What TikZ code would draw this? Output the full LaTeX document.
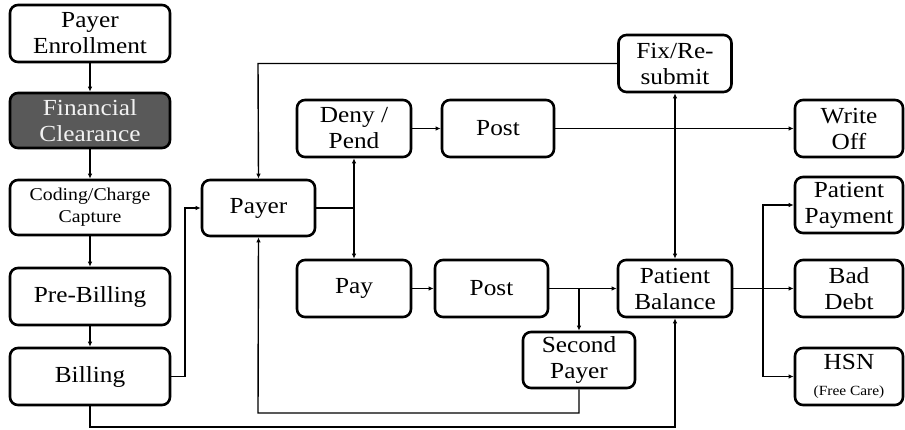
\documentclass[tikz,border=0pt]{standalone}
\usepackage{fontspec}
\setmainfont{Liberation Serif}[FakeStretch=1.1]
\usetikzlibrary{arrows.meta}
\begin{document}
\begin{tikzpicture}[x=1pt,y=-1pt,
  box/.style={draw=black, line width=2.6pt, rounded corners=8pt, fill=white,
    align=center, inner sep=0pt, font=\fontsize{23}{26}\selectfont},
  darkbox/.style={box, fill=black!65, text=black!5},
  conn/.style={line width=1.4pt, -{Latex[length=5pt,width=4.5pt]}},
  plain/.style={line width=1.4pt},
  thick conn/.style={line width=2.8pt}
]
\useasboundingbox (0,0) rectangle (905,429);

% left column
\node[box, minimum width=160pt, minimum height=57pt] (enroll) at (90,33.5) {Payer\\Enrollment};
\node[darkbox, minimum width=160pt, minimum height=55pt] (fin) at (90,120.5) {Financial\\Clearance};
\node[box, minimum width=160pt, minimum height=55pt, font=\fontsize{18}{22}\selectfont] (coding) at (90,207.5) {Coding/Charge\\Capture};
\node[box, minimum width=160pt, minimum height=57pt] (pre) at (90,296.5) {Pre-Billing};
\node[box, minimum width=160pt, minimum height=57pt] (bill) at (90,376.5) {Billing};

% middle
\node[box, minimum width=113pt, minimum height=56pt] (payer) at (258.5,208) {Payer};
\node[box, minimum width=114pt, minimum height=57pt] (deny) at (354,128.5) {Deny /\\Pend};
\node[box, minimum width=112pt, minimum height=57pt] (post1) at (498,128.5) {Post};
\node[box, minimum width=113pt, minimum height=57pt] (fix) at (675,63.5) {Fix/Re-\\submit};
\node[box, minimum width=114pt, minimum height=57pt] (pay) at (354,288.5) {Pay};
\node[box, minimum width=113pt, minimum height=57pt] (post2) at (491.5,288.5) {Post};
\node[box, minimum width=114pt, minimum height=57pt] (pb) at (675,288.5) {Patient\\Balance};
\node[box, minimum width=112pt, minimum height=56pt] (second) at (579,360) {Second\\Payer};

% right column
\node[box, minimum width=108pt, minimum height=57pt] (write) at (849,128.5) {Write\\Off};
\node[box, minimum width=108pt, minimum height=56pt] (pp) at (849,205) {Patient\\Payment};
\node[box, minimum width=108pt, minimum height=57pt] (bad) at (849,288.5) {Bad\\Debt};
\node[box, minimum width=108pt, minimum height=57pt] (hsn) at (849,376.5) {HSN\\{\fontsize{14}{16}\selectfont (Free Care)}};

% junction coordinates
\coordinate (jbill) at (185,376.5);
\coordinate (jpayer) at (354,208);
\coordinate (jpost1) at (675,128.5);
\coordinate (jfix) at (258,63.5);
\coordinate (jpost2) at (579,288.5);
\coordinate (jsec) at (579,413);
\coordinate (jsec2) at (258,413);
\coordinate (jbot) at (90,427);
\coordinate (jbot2) at (675,427);
\coordinate (jpb) at (763,288.5);

% left column arrows
\draw[conn] (enroll) -- (fin);
\draw[conn] (fin) -- (coding);
\draw[conn] (coding) -- (pre);
\draw[conn] (pre) -- (bill);

% billing to payer
\draw[conn] (bill.east) -- (jbill) |- (payer.west);

% payer split
\draw[thick conn] (payer.east) -- (jpayer);
\draw[conn] (jpayer) -- (deny.south);
\draw[conn] (jpayer) -- (pay.north);

% deny path
\draw[conn] (deny) -- (post1);
\draw[plain] (post1.east) -- (jpost1);
\draw[conn] (jpost1) -- (write.west);
\draw[conn] (jpost1) -- (fix.south);
\draw[conn] (jpost1) -- (pb.north);
\draw[conn] (fix.west) -- (jfix) -- (payer.north);

% pay path
\draw[conn] (pay) -- (post2);
\draw[conn] (post2.east) -- (pb.west);
\draw[conn] (jpost2) -- (second.north);
\draw[conn] (second.south) -- (jsec) -- (jsec2) -- (payer.south);

% billing bottom
\draw[conn] (bill.south) -- (jbot) -- (jbot2) -- (pb.south);

% patient balance outcomes
\draw[plain] (pb.east) -- (jpb);
\draw[conn] (jpb) |- (pp.west);
\draw[conn] (jpb) -- (bad.west);
\draw[conn] (jpb) |- (hsn.west);
\end{tikzpicture}
\end{document}
